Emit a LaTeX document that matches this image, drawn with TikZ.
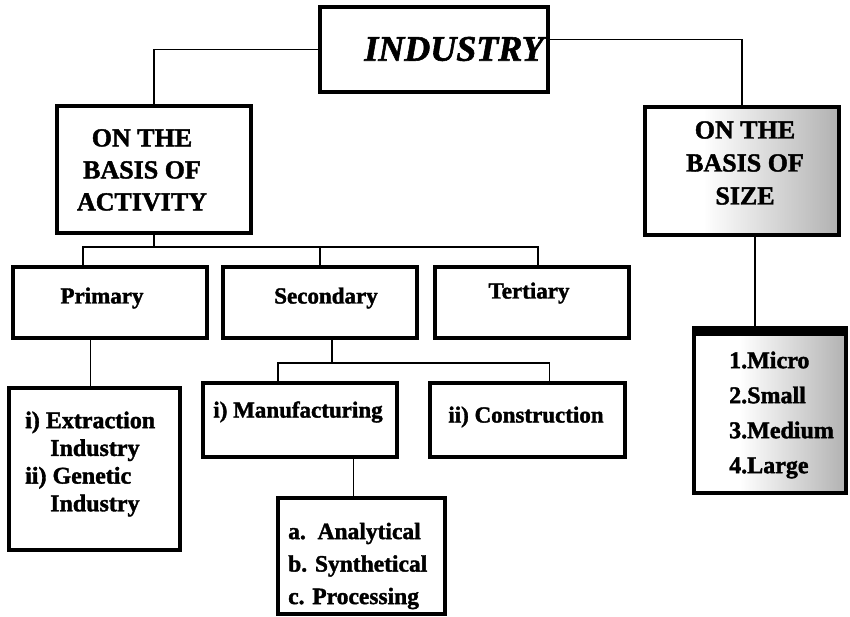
\documentclass[tikz,border=0pt]{standalone}
\usepackage{fontspec}
\setmainfont{Liberation Serif}[BoldFeatures={FakeBold=1.6}, BoldItalicFeatures={FakeBold=1.6}]
\usetikzlibrary{calc}

% fade used behind the size branch: white on the left, grey to the right
\pgfdeclarehorizontalshading{sizefade}{100bp}{color(0bp)=(white); color(40bp)=(white); color(100bp)=(black!52)}

\tikzset{
  box/.style={draw=black, line width=4pt, fill=white, inner sep=0pt},
  greybox/.style={box, shading=sizefade},
  conn/.style={draw=black, line width=1.8pt},
  head/.style={inner sep=0pt, align=center, font=\bfseries\fontsize{26}{32}\selectfont},
  cat/.style={inner sep=0pt, font=\bfseries\fontsize{23}{26}\selectfont},
  list/.style={inner sep=0pt, anchor=west, align=left, font=\bfseries\fontsize{23}{28}\selectfont},
}

\begin{document}
\begin{tikzpicture}[x=1pt, y=-1pt]
\useasboundingbox (0,0) rectangle (850,617);

% ---- boxes ----
\node[box, minimum width=228, minimum height=85] (ind) at (434,49.5) {};
\node[box, minimum width=194, minimum height=127] (act) at (154,169.5) {};
\node[greybox, minimum width=194, minimum height=128] (siz) at (742,171) {};

\node[box, minimum width=194, minimum height=71] (prim) at (110,302.5) {};
\node[box, minimum width=194, minimum height=71] (sec) at (320,302.5) {};
\node[box, minimum width=194, minimum height=71] (ter) at (532,302.5) {};

\node[box, minimum width=171, minimum height=162] (ext) at (94.5,469) {};
\node[box, minimum width=194, minimum height=74] (man) at (300,420) {};
\node[box, minimum width=195, minimum height=74] (con) at (527.5,420) {};
\node[box, minimum width=167, minimum height=116] (ana) at (361.5,556) {};

\node[greybox, minimum width=152, minimum height=165] (lst) at (770,410.5) {};
% heavy top band of the size list
\fill[black] (lst.north west) rectangle ($(lst.north east)+(0,10)$);

% ---- texts ----
\node[inner sep=0pt, font=\bfseries\itshape\fontsize{36}{40}\selectfont] (indT) at (454,49) {INDUSTRY};
\node[head] (actT) at (142,170) {ON THE\\BASIS OF\\ACTIVITY};
\node[head, font=\bfseries\fontsize{26}{33}\selectfont] (sizT) at (745,163) {ON THE\\BASIS OF\\SIZE};

\node[cat] (primT) at (102,298) {Primary};
\node[cat] (secT) at (326,298) {Secondary};
\node[cat] (terT) at (529,293) {Tertiary};
\node[cat] (manT) at (298,412) {i) Manufacturing};
\node[cat] (conT) at (526,417) {ii) Construction};

\node[list, font=\bfseries\fontsize{24}{27.7}\selectfont] (extT) at (25,464)
  {i) Extraction\\\hspace*{25pt}Industry\\ii) Genetic\\\hspace*{25pt}Industry};
\node[list, font=\bfseries\fontsize{23.5}{32.5}\selectfont] (anaT) at (288,566)
  {a.\ \ Analytical\\b. Synthetical\\c. Processing};
\node[list, font=\bfseries\fontsize{24}{35}\selectfont] (lstT) at (729,415)
  {1.Micro\\2.Small\\3.Medium\\4.Large};

% ---- connectors ----
\draw[conn] (ind.west) -| (act.north);
\draw[conn] ($(ind.east)+(0,-10)$) -| (siz.north);

\coordinate (busA) at (154,247);
\draw[conn] (act.south) -- (busA);
\draw[conn] ([xshift=-27pt]prim.north) |- (busA) -| ([xshift=6pt]ter.north);
\draw[conn] (sec.north) -- (sec.north |- busA);

\draw[conn] ([xshift=-4pt]ext.north) -- ([xshift=-4pt]ext.north |- prim.south);

\coordinate (busB) at (332,363);
\draw[conn] (busB |- sec.south) -- (busB);
\draw[conn] ([xshift=-22pt]man.north) |- (busB) -| ([xshift=22pt]con.north);

\draw[conn] ([xshift=-8pt]ana.north) -- ([xshift=-8pt]ana.north |- man.south);

\draw[conn] ([xshift=13pt]siz.south) -- ([xshift=13pt]siz.south |- lst.north);
\end{tikzpicture}
\end{document}
